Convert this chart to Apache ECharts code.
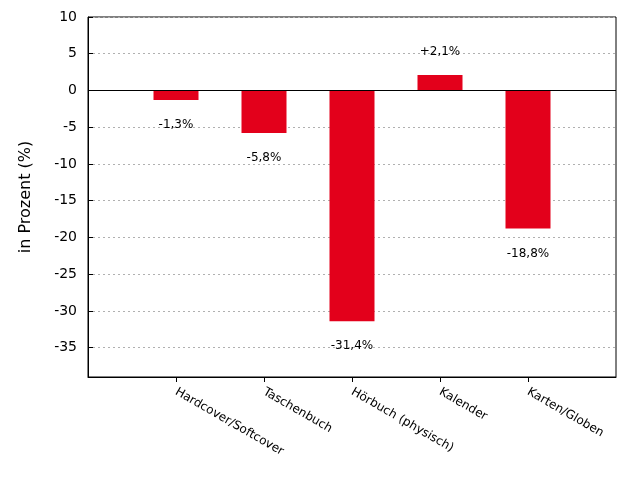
<!DOCTYPE html>
<html>
<head>
<meta charset="utf-8">
<script src="https://cdn.jsdelivr.net/npm/echarts@6/dist/echarts.min.js"></script>
<style>html,body{margin:0;padding:0;background:#fff}#c{width:640px;height:480px}</style>
</head>
<body>
<div id="c"></div>
<script>
var categories = ['Hardcover/Softcover', 'Taschenbuch', 'Hörbuch (physisch)', 'Kalender', 'Karten/Globen'];
var values = [-1.3, -5.8, -31.4, 2.1, -18.8];
var yTicks = [10, 5, 0, -5, -10, -15, -20, -25, -30, -35];

var axisCats = [''].concat(categories).concat(['']);
var seriesData = [null].concat(values.map(function (v) {
  return {
    value: v,
    label: { position: v >= 0 ? 'top' : 'bottom', distance: v >= 0 ? 17 : 19 }
  };
})).concat([null]);

var chart = echarts.init(document.getElementById('c'));
chart.setOption({
  animation: false,
  grid: { left: 88, right: 24, top: 17, bottom: 103, show: true, borderColor: '#000', borderWidth: 1, backgroundColor: 'transparent' },
  xAxis: {
    type: 'category',
    data: axisCats,
    boundaryGap: false,
    axisLine: { onZero: false, lineStyle: { color: '#000', width: 1 } },
    axisTick: {
      length: 5, lineStyle: { color: '#000' },
      interval: function (i) { return i > 0 && i < axisCats.length - 1; }
    },
    axisLabel: {
      rotate: -30, color: '#000', fontFamily: 'DejaVu Sans', fontSize: 12, margin: 14,
      interval: 0
    },
    splitLine: { show: false }
  },
  yAxis: {
    type: 'value',
    min: -39, max: 10,
    name: 'in Prozent (%)',
    nameLocation: 'middle',
    nameGap: 54,
    nameRotate: 90,
    nameTextStyle: { color: '#000', fontFamily: 'DejaVu Sans', fontSize: 16 },
    axisLine: { show: true, lineStyle: { color: '#000', width: 1 } },
    axisTick: { show: true, inside: true, length: 5, lineStyle: { color: '#000' }, customValues: yTicks },
    axisLabel: { color: '#000', fontFamily: 'DejaVu Sans', fontSize: 14, margin: 11, customValues: yTicks },
    splitLine: { show: true, lineStyle: { color: '#b0b0b0', type: [2, 3], width: 1 } }
  },
  series: [{
    type: 'bar',
    data: seriesData,
    barWidth: 45,
    itemStyle: { color: '#e3001b' },
    label: {
      show: true,
      color: '#000',
      fontFamily: 'DejaVu Sans',
      fontSize: 12,
      formatter: function (p) {
        var v = p.value;
        var s = Math.abs(v).toFixed(1).replace('.', ',');
        return (v >= 0 ? '+' : '-') + s + '%';
      }
    },
    markLine: {
      silent: true,
      symbol: 'none',
      label: { show: false },
      lineStyle: { color: '#000', type: 'solid', width: 1 },
      data: [{ yAxis: 0 }]
    }
  }]
});
</script>
</body>
</html>
